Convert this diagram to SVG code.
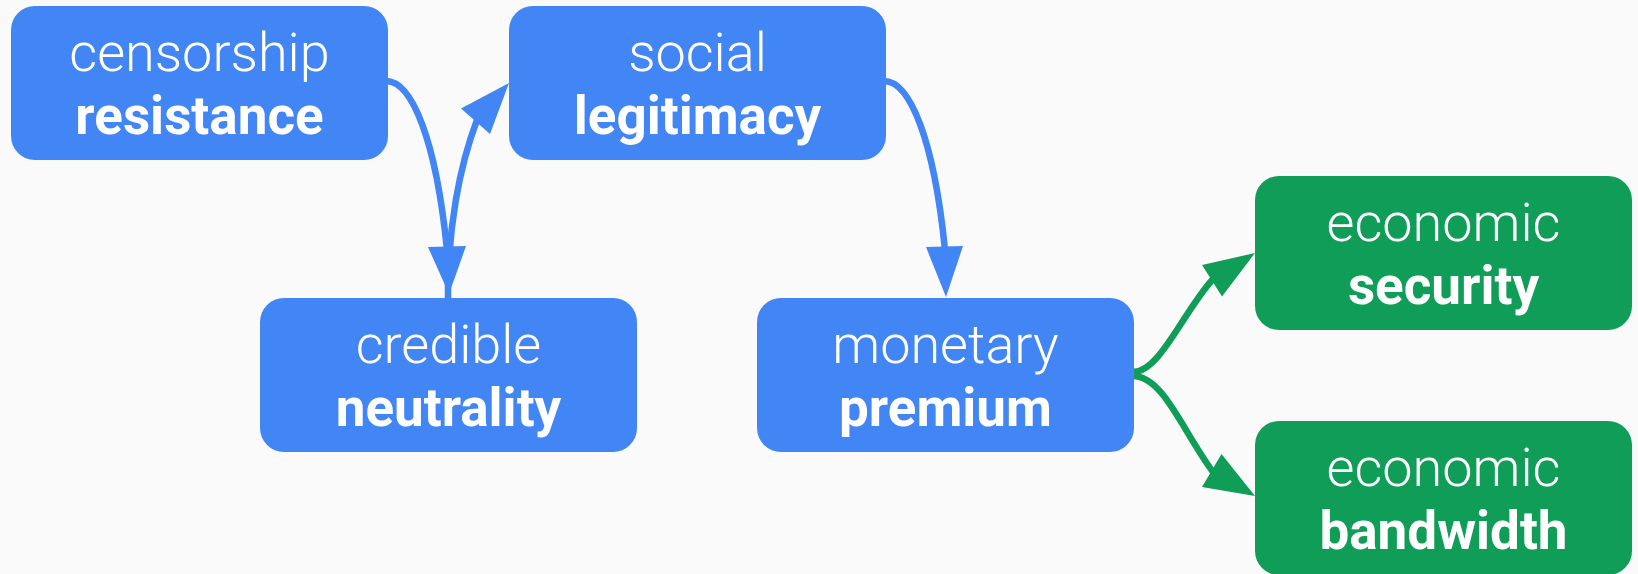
<svg xmlns="http://www.w3.org/2000/svg" width="1638" height="574" viewBox="0 0 1638 574">
<style>
.bg{fill:#fafafa}
.blue{fill:#4285f4}
.green{fill:#0f9d58}
.t{font-family:Roboto,"Liberation Sans",sans-serif;fill:#ffffff;text-anchor:middle}
.l{font-weight:300;font-size:54px}
.b{font-weight:700;font-size:53px}
.eb{fill:none;stroke:#4285f4;stroke-width:6.5}
.eg{fill:none;stroke:#0f9d58;stroke-width:6.5}
.ab{fill:#4285f4}
.ag{fill:#0f9d58}
</style>
<rect class="bg" x="0" y="0" width="1638" height="574"/>
<g id="connectors">
  <path class="eb" d="M386,81 C412,81 436,140 447,250"/>
  <polygon class="ab" points="449,294 428,247 466,246"/>
  <path class="eb" d="M448,299 L448,285 C449,230 458,170 477,120"/>
  <polygon class="ab" points="509,83 461,108.5 490,134"/>
  <path class="eb" d="M884,81 C910,81 934,140 945,250"/>
  <polygon class="ab" points="946,297 926,247 963,246"/>
  <path class="eg" d="M1133,372 C1160,372 1183,312 1213,279"/>
  <polygon class="ag" points="1255,253 1202,265 1222,296.5"/>
  <path class="eg" d="M1133,376 C1163,376 1182,430 1213,472"/>
  <polygon class="ag" points="1255,496 1202,487 1221.5,454"/>
</g>
<g id="censorship-resistance">
  <rect class="blue" x="11" y="6" width="377" height="154" rx="24"/>
  <text class="t l" x="199.5" y="71">censorship</text>
  <text class="t b" x="199.5" y="134">resistance</text>
</g>
<g id="social-legitimacy">
  <rect class="blue" x="509" y="6" width="377" height="154" rx="24"/>
  <text class="t l" x="697.5" y="71">social</text>
  <text class="t b" x="697.5" y="134">legitimacy</text>
</g>
<g id="credible-neutrality">
  <rect class="blue" x="260" y="298" width="377" height="154" rx="24"/>
  <text class="t l" x="448.5" y="363">credible</text>
  <text class="t b" x="448.5" y="426">neutrality</text>
</g>
<g id="monetary-premium">
  <rect class="blue" x="757" y="298" width="377" height="154" rx="24"/>
  <text class="t l" x="945.5" y="363">monetary</text>
  <text class="t b" x="945.5" y="426">premium</text>
</g>
<g id="economic-security">
  <rect class="green" x="1255" y="176" width="377" height="154" rx="24"/>
  <text class="t l" x="1443.5" y="241">economic</text>
  <text class="t b" x="1443.5" y="304">security</text>
</g>
<g id="economic-bandwidth">
  <rect class="green" x="1255" y="421" width="377" height="154" rx="24"/>
  <text class="t l" x="1443.5" y="486">economic</text>
  <text class="t b" x="1443.5" y="549">bandwidth</text>
</g>
</svg>
